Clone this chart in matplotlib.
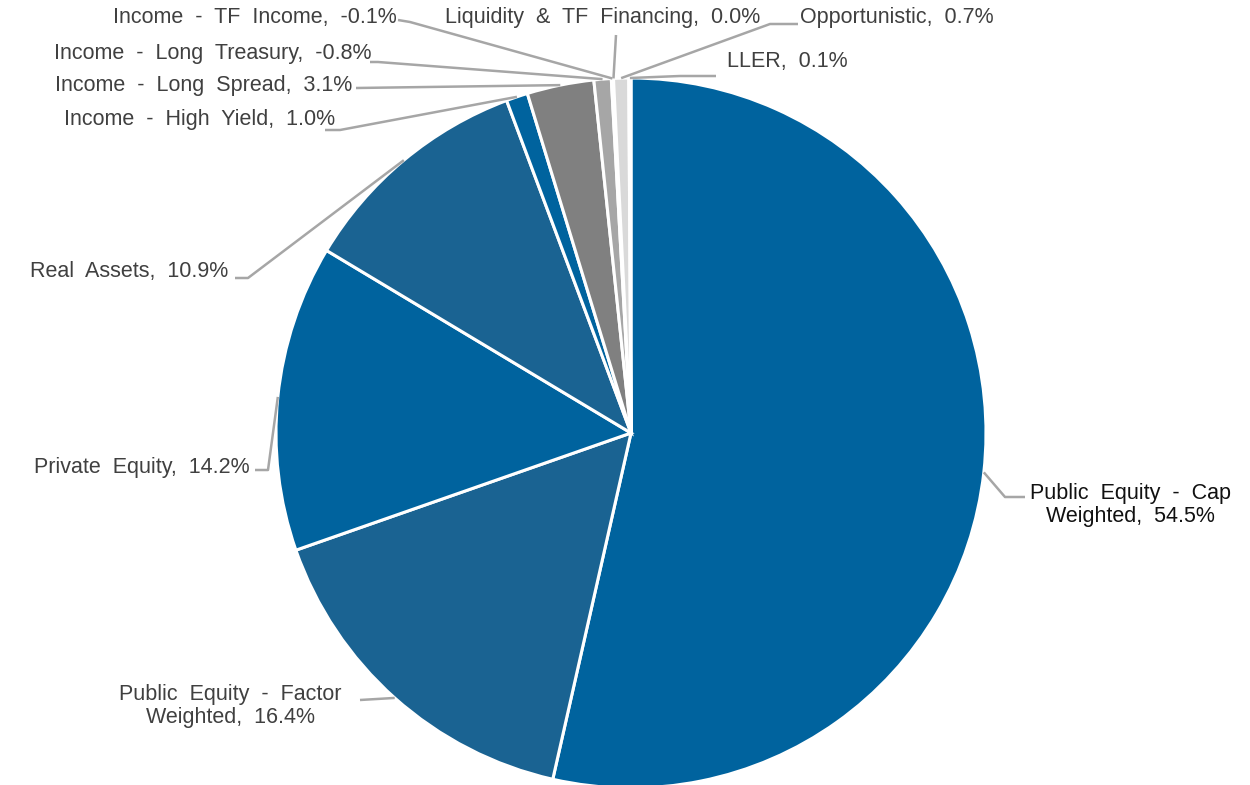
import matplotlib.pyplot as plt
import numpy as np

plt.rcParams["font.family"] = ["Liberation Sans", "DejaVu Sans"]

categories = [
    "Public Equity - Cap\nWeighted",
    "Public Equity - Factor\nWeighted",
    "Private Equity",
    "Real Assets",
    "Income - High Yield",
    "Income - Long Spread",
    "Income - Long Treasury",
    "Income - TF Income",
    "Liquidity & TF Financing",
    "Opportunistic",
    "LLER",
]
values = [54.5, 16.4, 14.2, 10.9, 1.0, 3.1, -0.8, -0.1, 0.0, 0.7, 0.1]
colors = ["#00639E", "#1A6392", "#00639E", "#1A6392", "#00639E", "#808080",
          "#A6A6A6", "#F2F2F2", "#FFFFFF", "#D9D9D9", "#BFBFBF"]

W, H = 1250, 785
cx, cy, r = 631, 433, 355

# label layout in pixel coords: text position, alignment, leader elbow points
layout = [
    dict(xy=(1130, 505), ha="center", pts=[(1005, 497), (1025, 497)], color="#111111"),
    dict(xy=(230, 706), ha="center", pts=[(360, 700)], color="#404040"),
    dict(xy=(250, 467), ha="right", pts=[(268, 470), (255, 470)], color="#404040"),
    dict(xy=(228, 272), ha="right", pts=[(248, 278), (235, 278)], color="#404040"),
    dict(xy=(335, 119), ha="right", pts=[(340, 130), (325, 130)], color="#404040"),
    dict(xy=(352, 86), ha="right", pts=[(356, 88)], color="#404040"),
    dict(xy=(372, 53), ha="right", pts=[(378, 62), (370, 62)], color="#404040"),
    dict(xy=(397, 17), ha="right", pts=[(410, 22), (398, 20)], color="#404040"),
    dict(xy=(603, 17), ha="center", pts=[(616, 35)], color="#404040"),
    dict(xy=(800, 18), ha="left", pts=[(770, 24), (798, 24)], color="#404040"),
    dict(xy=(727, 62), ha="left", pts=[(680, 76), (716, 76)], color="#404040"),
]


def fy(y):
    return H - y


fig = plt.figure(figsize=(12.5, 7.85), dpi=100)
ax = fig.add_axes([0, 0, 1, 1])

# Excel pies draw negative values by their magnitude
wedges, _ = ax.pie(np.abs(values), colors=colors, startangle=90, counterclock=False,
                   center=(cx, fy(cy)), radius=r,
                   wedgeprops=dict(edgecolor="white", linewidth=2.2))
ax.set_xlim(0, W)
ax.set_ylim(0, H)
ax.set_aspect("equal")
ax.axis("off")

for w, name, val, lay in zip(wedges, categories, values, layout):
    mid = np.deg2rad((w.theta1 + w.theta2) / 2)
    ex, ey = cx + r * np.cos(mid), fy(cy) + r * np.sin(mid)
    xs = [ex] + [p[0] for p in lay["pts"]]
    ys = [ey] + [fy(p[1]) for p in lay["pts"]]
    ax.plot(xs, ys, color="#A6A6A6", lw=1.8, solid_capstyle="butt")
    label = f"{name}, {val:.1f}%".replace(" ", "  ")
    ax.text(lay["xy"][0], fy(lay["xy"][1]), label, ha=lay["ha"],
            va="center", fontsize=15.5, color=lay["color"], linespacing=1.1)

plt.savefig("out.png", dpi=100)
